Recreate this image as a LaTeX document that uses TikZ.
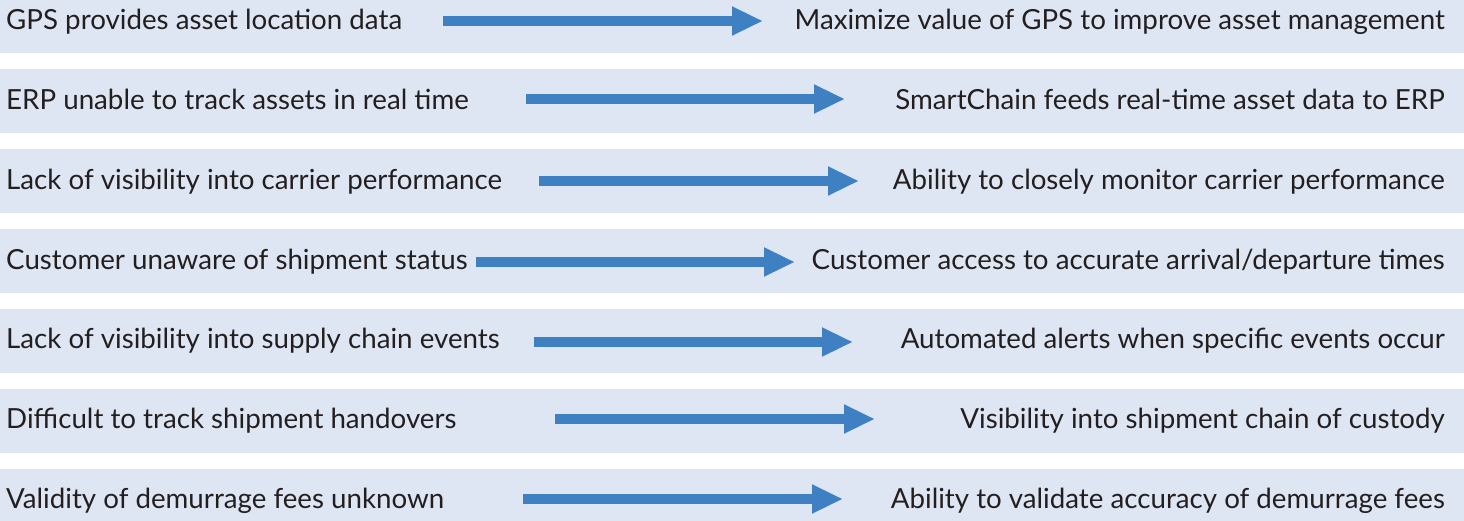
\documentclass[tikz,border=0pt]{standalone}
\usepackage{fontspec}
\setmainfont{Lato}
\usetikzlibrary{arrows.meta}
\definecolor{bandc}{HTML}{DFE6F3}
\definecolor{arrc}{HTML}{3F80C2}
\definecolor{txtc}{HTML}{231F20}
\tikzset{
  lefttxt/.style={anchor=base west, inner sep=0pt, text=txtc, font=\fontsize{27.7}{30}\selectfont},
  righttxt/.style={anchor=base east, inner sep=0pt, text=txtc, font=\fontsize{27.7}{30}\selectfont},
  bigarrow/.style={draw=arrc, line width=10pt, -{Triangle[width=27pt,length=31pt]}, fill=arrc},
}
\begin{document}
\begin{tikzpicture}[x=1pt,y=-1pt]
\useasboundingbox (0,0) rectangle (1464,520);
\fill[white] (0,0) rectangle (1464,520);
\begin{scope}
\clip (0,0) rectangle (1464,520);
\foreach \k in {0,...,6}{
  \fill[bandc] (0,{-11+80*\k}) rectangle (1464,{53+80*\k});
}
\end{scope}
% row 1
\node[lefttxt] (l1) at (6,29) {GPS provides asset location data};
\node[righttxt] (r1) at (1445,29) {Maximize value of GPS to improve asset management};
\coordinate (s1) at (443,21); \coordinate (t1) at (763,21);
\draw[bigarrow] (s1) -- (t1);
% row 2
\node[lefttxt] (l2) at (6,109) {ERP unable to track assets in real time};
\node[righttxt] (r2) at (1445,109) {SmartChain feeds real-time asset data to ERP};
\coordinate (s2) at (526,99); \coordinate (t2) at (845,99);
\draw[bigarrow] (s2) -- (t2);
% row 3
\node[lefttxt] (l3) at (6,189) {Lack of visibility into carrier performance};
\node[righttxt] (r3) at (1445,189) {Ability to closely monitor carrier performance};
\coordinate (s3) at (539,181); \coordinate (t3) at (859,181);
\draw[bigarrow] (s3) -- (t3);
% row 4
\node[lefttxt] (l4) at (6,269) {Customer unaware of shipment status};
\node[righttxt] (r4) at (1445,269) {Customer access to accurate arrival/departure times};
\coordinate (s4) at (476,262); \coordinate (t4) at (795,262);
\draw[bigarrow] (s4) -- (t4);
% row 5
\node[lefttxt] (l5) at (6,348) {Lack of visibility into supply chain events};
\node[righttxt] (r5) at (1445,348) {Automated alerts when specific events occur};
\coordinate (s5) at (534,342); \coordinate (t5) at (853,342);
\draw[bigarrow] (s5) -- (t5);
% row 6
\node[lefttxt] (l6) at (6,428) {Difficult to track shipment handovers};
\node[righttxt] (r6) at (1445,428) {Visibility into shipment chain of custody};
\coordinate (s6) at (555,419); \coordinate (t6) at (875,419);
\draw[bigarrow] (s6) -- (t6);
% row 7
\node[lefttxt] (l7) at (6,508) {Validity of demurrage fees unknown};
\node[righttxt] (r7) at (1445,508) {Ability to validate accuracy of demurrage fees};
\coordinate (s7) at (523,499); \coordinate (t7) at (843,499);
\draw[bigarrow] (s7) -- (t7);
\end{tikzpicture}
\end{document}
